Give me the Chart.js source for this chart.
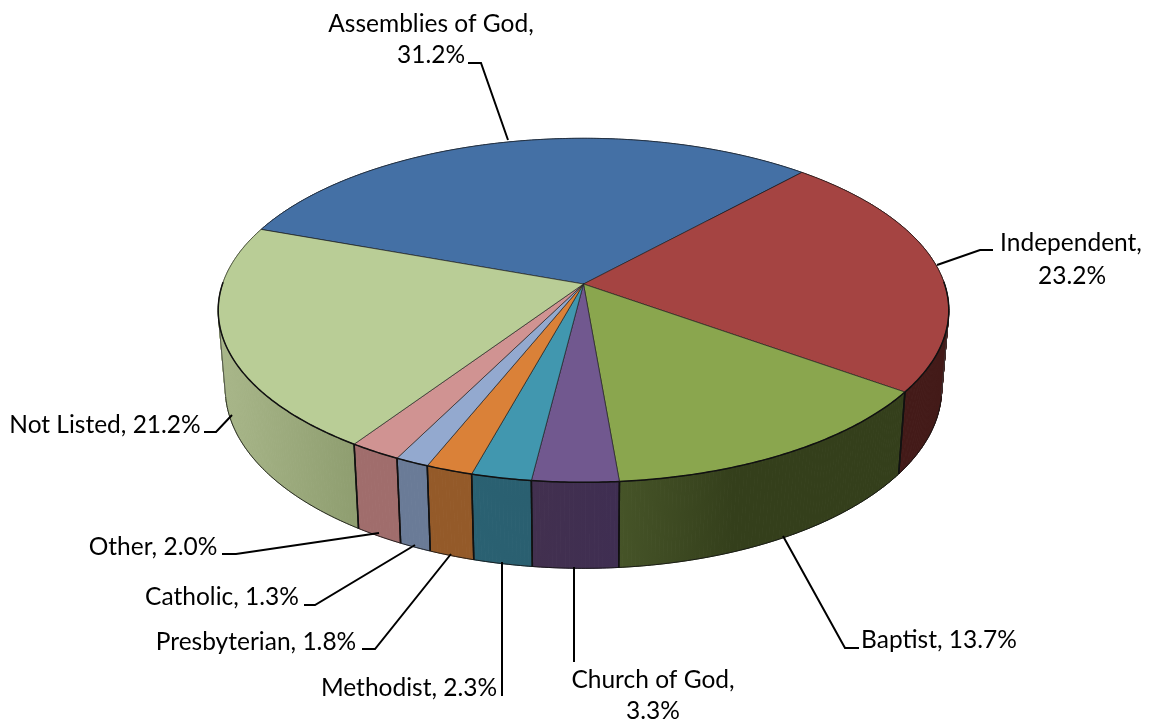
<!DOCTYPE html>
<html>
<head>
<meta charset="utf-8">
<title>Denominations</title>
<script src="https://cdn.jsdelivr.net/npm/chart.js@4"></script>
<style>
  html, body { margin: 0; padding: 0; background: #fff; }
  #wrap { width: 1152px; height: 726px; }
</style>
</head>
<body>
<div id="wrap"><canvas id="pie3d"></canvas></div>
<script>
const categories = ['Assemblies of God', 'Independent', 'Baptist', 'Church of God', 'Methodist', 'Presbyterian', 'Catholic', 'Other', 'Not Listed'];
const shares = [31.2, 23.2, 13.7, 3.3, 2.3, 1.8, 1.3, 2.0, 21.2];
const topColors = ['#4470A5', '#A54442', '#8AA64E', '#71588F', '#4197AF', '#DA8138', '#93A9CF', '#D09392', '#B9CD96'];
const wallLeft = ['#2A4466', '#431A18', '#465428', '#42304F', '#2A6172', '#945A29', '#6A7B97', '#A06D6C', '#A9B78A'];
const wallRight = ['#2A4466', '#431A18', '#343F1B', '#3F2E52', '#2A5F70', '#945A29', '#6A7B97', '#A06D6C', '#8F9E70'];

// perspective of the disc, tuned by eye against the picture
const TOP = { cx: 583.5, cy: 284, rx: 361, ry: 168, p: 0.153 };
const BOTTOM = { cx: 583.5, cy: 361, rx: 354, ry: 175.6, p: 0.153 };
const START_DEG = -70;

// text blocks: center x and mid y per line, plus the leader polyline
const labelLayout = [
  { lines: [[431, 24], [431, 55]], wrap: true, leader: [[468, 63], [481, 63], [508, 140]] },
  { lines: [[1071, 243], [1072, 276]], wrap: true, leader: [[993, 250], [980, 250], [937, 265]] },
  { lines: [[939, 640]], leader: [[859, 648], [845, 648], [783, 536]] },
  { lines: [[653, 680], [653, 711]], wrap: true, leader: [[574, 662], [574, 567]] },
  { lines: [[409, 688]], leader: [[502, 696], [502, 562]] },
  { lines: [[256, 642]], leader: [[362, 649], [375, 649], [451, 554]] },
  { lines: [[222, 597]], leader: [[304, 605], [315, 605], [415, 545]] },
  { lines: [[153, 547]], leader: [[222, 554], [236, 554], [379, 533]] },
  { lines: [[105, 425]], leader: [[204, 432], [216, 432], [232, 415]] }
];

function project(disc, a) {
  const u = Math.cos(a), v = -Math.sin(a);
  const w = 1 + disc.p * v;
  return [disc.cx + disc.rx * u / w, disc.cy - disc.ry * v / w];
}

function arcAngles(arc) {
  const out = [];
  const n = Math.max(2, Math.ceil((arc.endAngle - arc.startAngle) / 0.01));
  for (let i = 0; i <= n; i++) out.push(arc.startAngle + (arc.endAngle - arc.startAngle) * i / n);
  return out;
}

function line(ctx, pts, width, color) {
  ctx.beginPath();
  pts.forEach((p, i) => i ? ctx.lineTo(p[0], p[1]) : ctx.moveTo(p[0], p[1]));
  ctx.lineWidth = width;
  ctx.strokeStyle = color;
  ctx.stroke();
}

// angles in the lower half where the wall turns away from the viewer
function silhouetteAngles() {
  const found = [];
  let prev = null;
  for (let a = -0.6; a < Math.PI + 0.6; a += 0.005) {
    const t = project(TOP, a), t2 = project(TOP, a + 0.005), b = project(BOTTOM, a);
    const cross = (b[0] - t[0]) * (t2[1] - t[1]) - (b[1] - t[1]) * (t2[0] - t[0]);
    if (prev !== null && Math.sign(cross) !== Math.sign(prev)) found.push(a);
    prev = cross;
  }
  return found;
}

function drawWall(ctx, arc, i) {
  const angles = arcAngles(arc);
  const xs = angles.map(a => project(TOP, a)[0]);
  const grad = ctx.createLinearGradient(Math.min(...xs), 0, Math.max(...xs), 0);
  grad.addColorStop(0, wallLeft[i]);
  // the Baptist wall reaches its dark tone early, then stays flat
  if (i === 2) grad.addColorStop(0.4, wallRight[i]);
  grad.addColorStop(1, wallRight[i]);
  ctx.fillStyle = grad;
  ctx.strokeStyle = grad;
  ctx.lineWidth = 1;
  for (let k = 0; k < angles.length - 1; k++) {
    const a = project(TOP, angles[k]), b = project(TOP, angles[k + 1]);
    const c = project(BOTTOM, angles[k + 1]), d = project(BOTTOM, angles[k]);
    ctx.beginPath();
    ctx.moveTo(a[0], a[1]);
    ctx.lineTo(b[0], b[1]);
    ctx.lineTo(c[0], c[1]);
    ctx.lineTo(d[0], d[1]);
    ctx.closePath();
    ctx.fill();
    ctx.stroke();
  }
}

function wallEdges(ctx, arcs) {
  const sil = silhouetteAngles();
  const from = sil[0], to = sil[sil.length - 1];
  arcs.forEach(arc => {
    const shifted = arcAngles(arc).map(a => {
      let s = a % (2 * Math.PI);
      if (s < -Math.PI / 2) s += 2 * Math.PI;
      return s;
    }).filter(a => a >= from && a <= to);
    if (shifted.length > 1) line(ctx, shifted.map(a => project(BOTTOM, a)), 1, 'rgba(20,20,20,0.85)');
    [arc.startAngle, arc.endAngle].forEach(a => {
      if (Math.sin(a) > 0.1) line(ctx, [project(TOP, a), project(BOTTOM, a)], 1.5, '#111');
    });
  });
  sil.forEach(a => line(ctx, [project(TOP, a), project(BOTTOM, a)], 1, 'rgba(60,60,60,0.8)'));
}

function drawTop(ctx, arc) {
  ctx.beginPath();
  ctx.moveTo(TOP.cx, TOP.cy);
  arcAngles(arc).forEach(a => {
    const p = project(TOP, a);
    ctx.lineTo(p[0], p[1]);
  });
  ctx.closePath();
  ctx.fillStyle = arc.options.backgroundColor;
  ctx.fill();
  ctx.lineWidth = 0.8;
  ctx.strokeStyle = 'rgba(25,25,25,0.8)';
  ctx.stroke();
}

const pie3dPlugin = {
  id: 'pie3d',
  beforeDatasetsDraw(chart) {
    const ctx = chart.ctx;
    const arcs = chart.getDatasetMeta(0).data;
    ctx.save();
    ctx.lineJoin = 'round';
    arcs.forEach((arc, i) => drawWall(ctx, arc, i));
    wallEdges(ctx, arcs);
    arcs.forEach(arc => drawTop(ctx, arc));
    // darker rim along the front
    arcs.forEach(arc => {
      const front = arcAngles(arc).filter(a => Math.sin(a) > -0.02);
      if (front.length > 1) line(ctx, front.map(a => project(TOP, a)), 1.5, '#111');
    });
    ctx.restore();
    return false;
  },
  afterDraw(chart) {
    const ctx = chart.ctx;
    ctx.save();
    ctx.font = '24.5px Lato';
    ctx.fillStyle = '#000';
    ctx.textAlign = 'center';
    ctx.textBaseline = 'middle';
    labelLayout.forEach((item, i) => {
      const pct = shares[i].toFixed(1) + '%';
      const texts = item.wrap ? [categories[i] + ',', pct] : [categories[i] + ', ' + pct];
      texts.forEach((t, k) => ctx.fillText(t, item.lines[k][0], item.lines[k][1]));
      line(ctx, item.leader, 2, '#000');
    });
    ctx.restore();
  }
};

new Chart(document.getElementById('pie3d'), {
  type: 'pie',
  data: {
    labels: categories,
    datasets: [{ data: shares, backgroundColor: topColors, borderWidth: 0 }]
  },
  options: {
    responsive: true,
    maintainAspectRatio: false,
    animation: false,
    rotation: START_DEG,
    plugins: { legend: { display: false }, tooltip: { enabled: false } }
  },
  plugins: [pie3dPlugin]
});
</script>
</body>
</html>
